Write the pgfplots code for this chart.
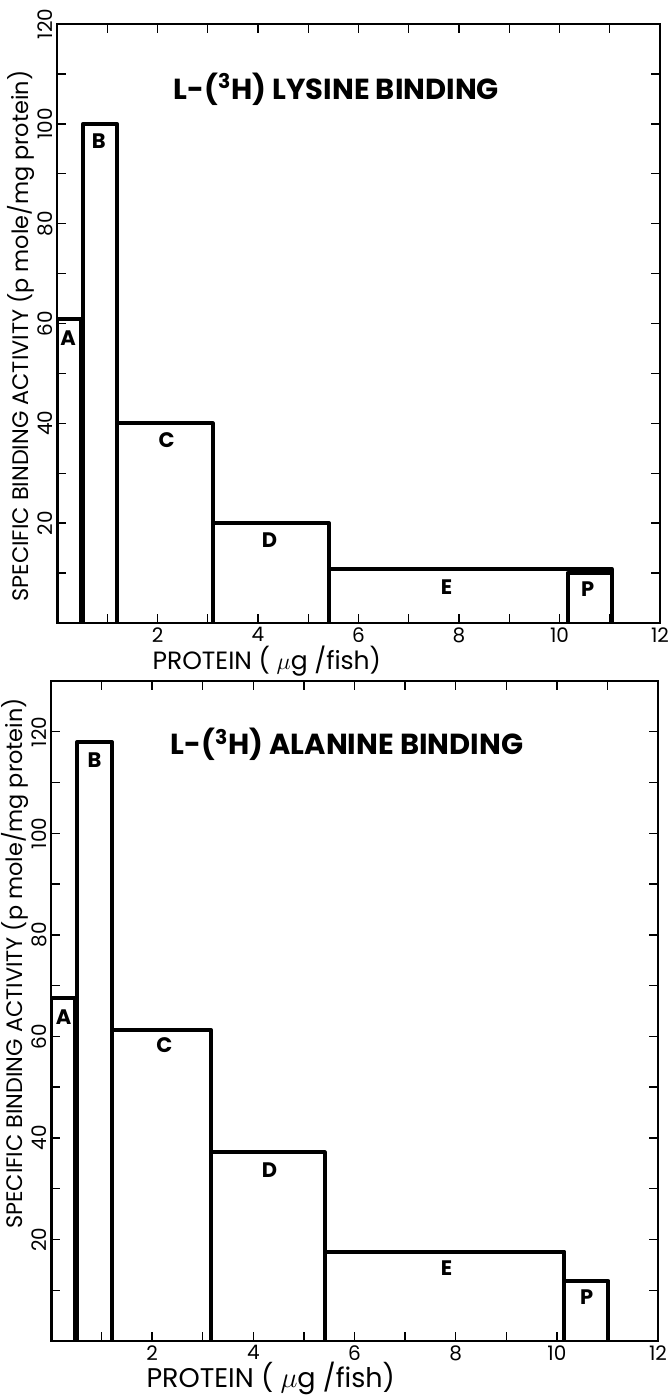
\documentclass[border=0pt]{standalone}
\usepackage{fontspec}
\setmainfont{Poppins}
\usepackage{pgfplots}
\pgfplotsset{compat=1.18}
\tikzset{
  blab/.style={font=\bfseries\fontsize{10.5}{12}\selectfont},
  ttl/.style={font=\bfseries\fontsize{14.5}{16}\selectfont},
  histbar/.style={black, line width=2pt, line join=round, sharp plot, mark=none},
}
\begin{document}
\begin{tikzpicture}
\useasboundingbox (0pt,0pt) rectangle (334pt,-698.5pt);
\pgfplotsset{
  histo/.style={
    scale only axis, xmin=0, xmax=12, ymin=0,
    xtick={2,4,...,12}, minor xtick={1,3,...,11},
    ytick={20,40,...,120}, minor ytick={10,30,...,130},
    major tick length=4.5pt, minor tick length=4.5pt,
    tick style={black, line width=0.7pt},
    axis line style={line width=1pt},
    /pgf/number format/assume math mode=true,
    ticklabel style={font=\fontsize{10}{11}\selectfont},
    yticklabel style={rotate=90, anchor=south, inner sep=2pt},
    xticklabel style={anchor=north, inner sep=2pt},
    ylabel style={font=\fontsize{11.2}{12}\selectfont},
  },
}
% ---------- top: lysine ----------
\begin{axis}[histo, at={(28.5pt,-311.5pt)}, anchor=south west,
  width=301.5pt, height=299.5pt, ymax=120,
  xlabel={PROTEIN ( $\mu$g /fish)},
  xlabel style={at={(rel axis cs:0.348,-0.078)}, anchor=base, font=\fontsize{12.5}{14}\selectfont},
  ylabel={SPECIFIC BINDING ACTIVITY (p mole/mg protein)},
  ylabel style={at={(rel axis cs:-0.06,0.479)}, anchor=center},
]
\addplot[histbar] coordinates {(0,0)(0,61)(0.48,61)(0.48,0)};
\addplot[histbar] coordinates {(0.52,0)(0.52,100)(1.19,100)(1.19,0)};
\addplot[histbar] coordinates {(1.19,0)(1.19,40)(3.10,40)(3.10,0)};
\addplot[histbar] coordinates {(3.10,0)(3.10,20)(5.41,20)(5.41,0)};
\addplot[histbar] coordinates {(5.41,0)(5.41,10.8)(11.04,10.8)(11.04,0)};
\addplot[histbar] coordinates {(10.16,0)(10.16,10.0)(11.04,10.0)(11.04,0)};
\node[ttl] at (axis cs:5.56,107) {L-(\textsuperscript{3}H) LYSINE BINDING};
\node[blab] at (axis cs:0.22,57) {A};
\node[blab] at (axis cs:0.83,96.5) {B};
\node[blab] at (axis cs:2.18,36.7) {C};
\node[blab] at (axis cs:4.23,16.6) {D};
\node[blab] at (axis cs:7.75,7.2) {E};
\node[blab] at (axis cs:10.56,6.7) {P};
\end{axis}
% ---------- bottom: alanine ----------
\begin{axis}[histo, at={(25.5pt,-670.5pt)}, anchor=south west,
  width=303.5pt, height=330pt, ymax=130,
  xlabel={PROTEIN ( $\mu$g /fish)},
  xlabel style={at={(rel axis cs:0.362,-0.071)}, anchor=base, font=\fontsize{13.5}{15}\selectfont},
  ylabel={SPECIFIC BINDING ACTIVITY (p mole/mg protein)},
  ylabel style={at={(rel axis cs:-0.06,0.572)}, anchor=center},
]
\addplot[histbar] coordinates {(0,0)(0,67.5)(0.48,67.5)(0.48,0)};
\addplot[histbar] coordinates {(0.52,0)(0.52,118)(1.2,118)(1.2,0)};
\addplot[histbar] coordinates {(1.2,0)(1.2,61.3)(3.16,61.3)(3.16,0)};
\addplot[histbar] coordinates {(3.16,0)(3.16,37.2)(5.41,37.2)(5.41,0)};
\addplot[histbar] coordinates {(5.41,0)(5.41,17.6)(10.15,17.6)(10.15,0)};
\addplot[histbar] coordinates {(10.15,0)(10.15,11.8)(11.02,11.8)(11.02,0)};
\node[ttl] at (axis cs:5.85,117.5) {L-(\textsuperscript{3}H) ALANINE BINDING};
\node[blab] at (axis cs:0.25,63.7) {A};
\node[blab] at (axis cs:0.86,114.4) {B};
\node[blab] at (axis cs:2.24,58.2) {C};
\node[blab] at (axis cs:4.32,33.6) {D};
\node[blab] at (axis cs:7.82,14.3) {E};
\node[blab] at (axis cs:10.59,8.7) {P};
\end{axis}
\end{tikzpicture}
\end{document}
